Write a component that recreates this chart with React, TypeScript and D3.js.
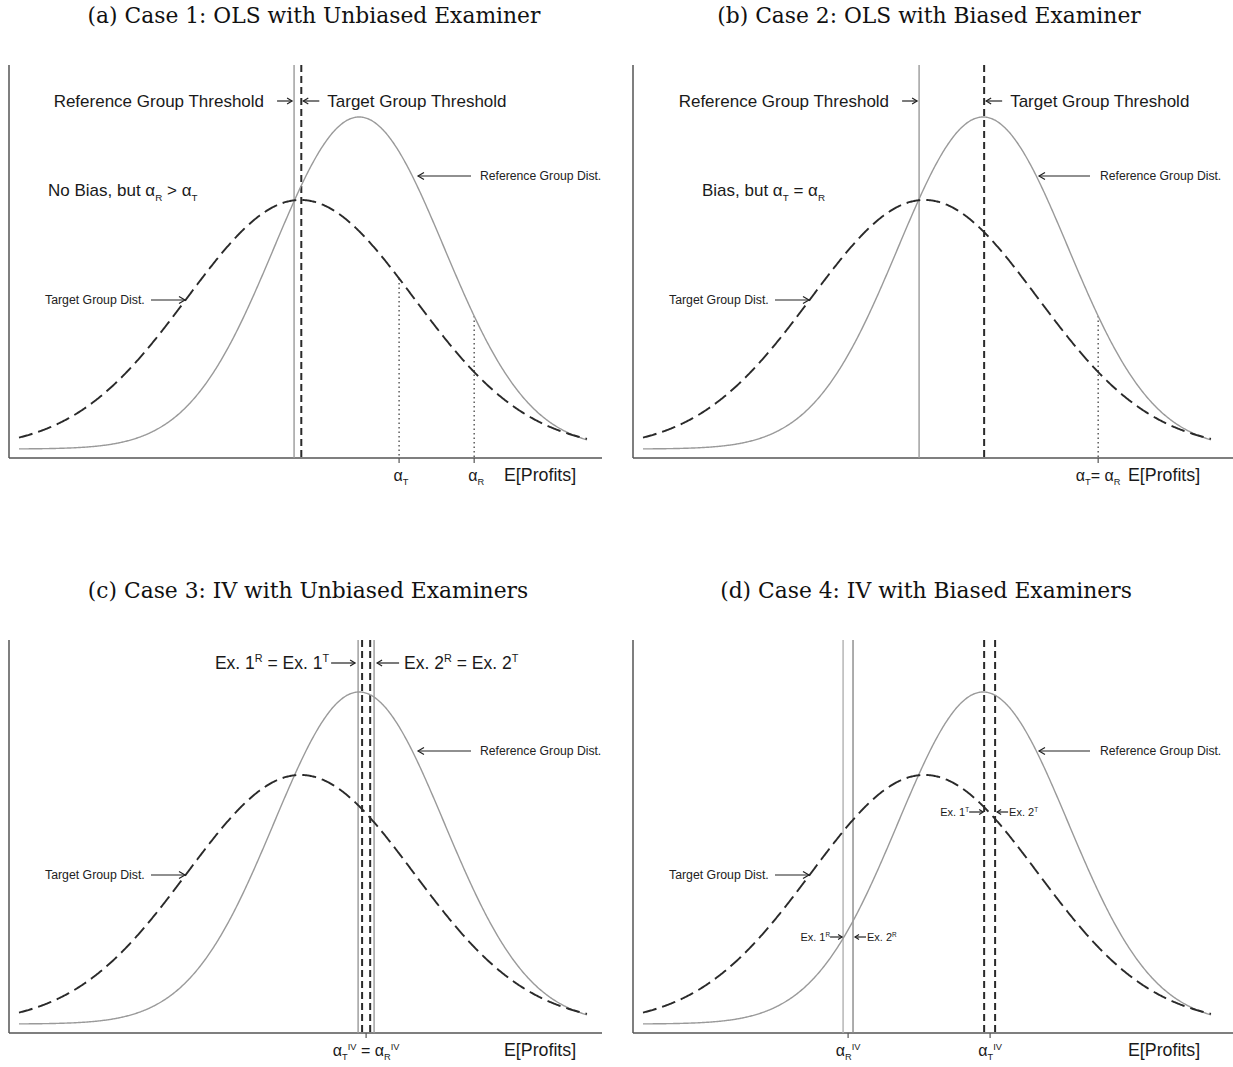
import React from 'react';
import * as d3 from 'd3';

// ---- data ----
const panelTitles = [
  '(a) Case 1: OLS with Unbiased Examiner',
  '(b) Case 2: OLS with Biased Examiner',
  '(c) Case 3: IV with Unbiased Examiners',
  '(d) Case 4: IV with Biased Examiners',
];
const xDomain = [-4, 2.68];
const refMean = 0;
const refSd = 1;
const tgtMean = -0.69;
const tgtSd = 1.333;
const refThresholds = [[-0.765], [-0.753], [-0.012, 0.176], [-1.647, -1.53]];
const tgtThresholds = [[-0.68], [0.012], [0.035, 0.13], [0.012, 0.141]];
const dottedOnTarget = [[0.47], [], [], []];
const dottedOnRef = [[1.353], [1.353], [], []];
const tickValues = [[0.47, 1.353], [1.353], [0.082], [-1.588, 0.082]];

type Part = [string, 'n' | 'sub' | 'sup'];
const tickLabels: Part[][][] = [
  [[['α', 'n'], ['T', 'sub']], [['α', 'n'], ['R', 'sub']]],
  [[['α', 'n'], ['T', 'sub'], ['= α', 'n'], ['R', 'sub']]],
  [[['α', 'n'], ['T', 'sub'], ['IV', 'sup'], [' = α', 'n'], ['R', 'sub'], ['IV', 'sup']]],
  [[['α', 'n'], ['R', 'sub'], ['IV', 'sup']], [['α', 'n'], ['T', 'sub'], ['IV', 'sup']]],
];

const panelX = [0, 624, 0, 624];
const panelY = [0, 0, 575, 575];
const titleCenters = [314, 305, 308, 302];

function pdf(x: number, m: number, s: number) {
  return Math.exp(-0.5 * ((x - m) / s) ** 2) / (s * Math.sqrt(2 * Math.PI));
}

const SANS = 'Liberation Sans, Arial, Helvetica, sans-serif';

function Rich({ x, y, size, anchor = 'start', parts, fill = '#1a1a1a', subScale = 0.58 }: any) {
  let cur = 0;
  const spans = parts.map(([t, k]: Part, i: number) => {
    const target = k === 'sub' ? size * 0.28 : k === 'sup' ? -size * 0.38 : 0;
    const dy = target - cur;
    cur = target;
    const fs = k === 'n' ? size : size * subScale;
    return (
      <tspan key={i} dy={dy} fontSize={fs}>
        {t}
      </tspan>
    );
  });
  return (
    <text x={x} y={y} textAnchor={anchor} fontSize={size} fill={fill} fontFamily={SANS}>
      {spans}
    </text>
  );
}

function Arrow({ x1, x2, y, head = 5, stroke = '#222', w = 1.2 }: any) {
  const dir = x2 > x1 ? 1 : -1;
  return (
    <g stroke={stroke} strokeWidth={w} fill="none">
      <line x1={x1} y1={y} x2={x2} y2={y} />
      <path d={`M${x2 - dir * head},${y - head * 0.6} L${x2},${y} L${x2 - dir * head},${y + head * 0.6}`} />
    </g>
  );
}

function Panel({ i }: { i: number }) {
  const x = d3.scaleLinear().domain(xDomain).range([19, 587]);
  const y = d3.scaleLinear().domain([0, pdf(refMean, refMean, refSd)]).range([449, 117]);
  const xs = d3.range(xDomain[0], xDomain[1] + 1e-9, 0.01);
  const line = d3
    .line<number>()
    .x((d) => x(d))
    .curve(d3.curveLinear);
  const refPath = line.y((d) => y(pdf(d, refMean, refSd)))(xs) as string;
  const tgtPath = line.y((d) => y(pdf(d, tgtMean, tgtSd)))(xs) as string;
  const axisY = 458;
  const axisRight = i % 2 === 0 ? 602 : 609;
  const lineTop = 65;
  const refColors = i === 3 ? ['#b0b0b0', '#8a8a8a'] : i === 2 ? ['#999', '#999'] : ['#9a9a9a'];

  const ref0 = x(refThresholds[i][0]);
  const tgt0 = x(tgtThresholds[i][0]);

  return (
    <g transform={`translate(${panelX[i]},${panelY[i]})`}>
      <text
        x={titleCenters[i]}
        y={23}
        textAnchor="middle"
        fontFamily="DejaVu Serif, serif"
        fontSize={21.8}
        fill="#111"
      >
        {panelTitles[i]}
      </text>

      {/* axes */}
      <g stroke="#555" strokeWidth={1.5}>
        <line x1={9} y1={lineTop} x2={9} y2={axisY} />
        <line x1={9} y1={axisY} x2={axisRight} y2={axisY} />
        {tickValues[i].map((v, k) => (
          <line key={k} x1={x(v)} y1={axisY} x2={x(v)} y2={axisY + 5} strokeWidth={1.2} />
        ))}
      </g>

      {/* thresholds */}
      {refThresholds[i].map((v, k) => (
        <line key={'r' + k} x1={x(v)} x2={x(v)} y1={lineTop} y2={axisY} stroke={refColors[k]} strokeWidth={1.4} />
      ))}
      {tgtThresholds[i].map((v, k) => (
        <line
          key={'t' + k}
          x1={x(v)}
          x2={x(v)}
          y1={lineTop}
          y2={axisY}
          stroke="#2a2a2a"
          strokeWidth={2}
          strokeDasharray="7,4"
        />
      ))}

      {/* dotted alpha lines */}
      {dottedOnTarget[i].map((v, k) => (
        <line key={'dt' + k} x1={x(v)} x2={x(v)} y1={y(pdf(v, tgtMean, tgtSd))} y2={axisY} stroke="#444" strokeWidth={1.3} strokeDasharray="1.5,3" />
      ))}
      {dottedOnRef[i].map((v, k) => (
        <line key={'dr' + k} x1={x(v)} x2={x(v)} y1={y(pdf(v, refMean, refSd))} y2={axisY} stroke="#444" strokeWidth={1.3} strokeDasharray="1.5,3" />
      ))}

      {/* distributions */}
      <path d={refPath} fill="none" stroke="#9a9a9a" strokeWidth={1.4} />
      <path d={tgtPath} fill="none" stroke="#2a2a2a" strokeWidth={1.9} strokeDasharray="14,6" />

      {/* dist labels */}
      <text x={i % 2 === 0 ? 480 : 476} y={180} fontSize={12.2} fontFamily={SANS} fill="#222">
        Reference Group Dist.
      </text>
      <Arrow x1={i % 2 === 0 ? 471 : 466} x2={i % 2 === 0 ? 418 : 415} y={176} head={6} />
      <text x={45} y={304} fontSize={12.3} fontFamily={SANS} fill="#222">
        Target Group Dist.
      </text>
      <Arrow x1={151} x2={185} y={300} head={6} />

      {/* threshold labels */}
      {i < 2 && (
        <g>
          <text x={ref0 - 30} y={107} textAnchor="end" fontSize={17} fontFamily={SANS} fill="#1a1a1a">
            Reference Group Threshold
          </text>
          <Arrow x1={ref0 - 17} x2={ref0 - 2} y={101} head={5} />
          <Arrow x1={tgt0 + 18} x2={tgt0 + 2} y={101} head={5} />
          <text x={tgt0 + 26} y={107} fontSize={17} fontFamily={SANS} fill="#1a1a1a">
            Target Group Threshold
          </text>
        </g>
      )}
      {i === 0 && (
        <Rich x={48} y={196} size={17} parts={[['No Bias, but α', 'n'], ['R', 'sub'], [' > α', 'n'], ['T', 'sub']]} />
      )}
      {i === 1 && (
        <Rich x={78} y={196} size={17} parts={[['Bias, but α', 'n'], ['T', 'sub'], [' = α', 'n'], ['R', 'sub']]} />
      )}
      {i === 2 && (
        <g>
          <Rich x={ref0 - 29} y={94} size={17.5} subScale={0.62} anchor="end" parts={[['Ex. 1', 'n'], ['R', 'sup'], [' = Ex. 1', 'n'], ['T', 'sup']]} />
          <Arrow x1={ref0 - 27} x2={ref0 - 3} y={88} head={5} />
          <Arrow x1={x(refThresholds[i][1]) + 25} x2={x(refThresholds[i][1]) + 3} y={88} head={5} />
          <Rich x={x(refThresholds[i][1]) + 30} y={94} size={17.5} subScale={0.62} parts={[['Ex. 2', 'n'], ['R', 'sup'], [' = Ex. 2', 'n'], ['T', 'sup']]} />
        </g>
      )}
      {i === 3 && (
        <g>
          <Rich x={ref0 - 13} y={366} size={11} anchor="end" parts={[['Ex. 1', 'n'], ['R', 'sup']]} />
          <Arrow x1={ref0 - 13} x2={ref0 - 1} y={362} head={4} />
          <Arrow x1={x(refThresholds[i][1]) + 13} x2={x(refThresholds[i][1]) + 2} y={362} head={4} />
          <Rich x={x(refThresholds[i][1]) + 14} y={366} size={11} parts={[['Ex. 2', 'n'], ['R', 'sup']]} />
          <Rich x={tgt0 - 15} y={241} size={11} anchor="end" parts={[['Ex. 1', 'n'], ['T', 'sup']]} />
          <Arrow x1={tgt0 - 15} x2={tgt0 - 1} y={237} head={4} />
          <Arrow x1={x(tgtThresholds[i][1]) + 13} x2={x(tgtThresholds[i][1]) + 2} y={237} head={4} />
          <Rich x={x(tgtThresholds[i][1]) + 14} y={241} size={11} parts={[['Ex. 2', 'n'], ['T', 'sup']]} />
        </g>
      )}

      {/* tick labels */}
      {tickValues[i].map((v, k) => (
        <Rich key={'tl' + k} x={x(v) + (i === 0 ? 2 : 0)} y={481} size={16} anchor="middle" parts={tickLabels[i][k]} />
      ))}
      <text x={504} y={481} fontSize={17.8} fontFamily={SANS} fill="#1a1a1a">
        E[Profits]
      </text>
    </g>
  );
}

export default function App() {
  return (
    <svg
      width={1233}
      height={1067}
      style={{ position: 'absolute', left: 0, top: 0, background: '#fff' }}
      xmlns="http://www.w3.org/2000/svg"
    >
      <rect x={0} y={0} width={1233} height={1067} fill="#fff" />
      {[0, 1, 2, 3].map((i) => (
        <Panel key={i} i={i} />
      ))}
    </svg>
  );
}
